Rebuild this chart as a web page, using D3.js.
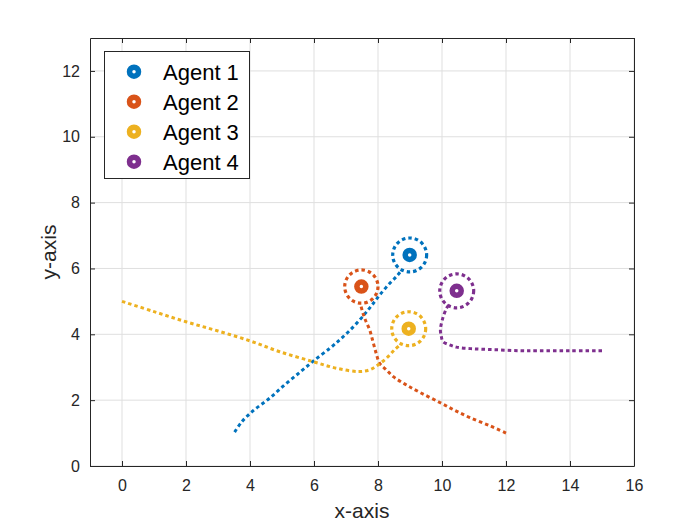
<!DOCTYPE html>
<html>
<head>
<meta charset="utf-8">
<script src="https://cdn.jsdelivr.net/npm/d3@7"></script>
<style>
  body { margin: 0; background: #fff; }
  svg { font-family: "Liberation Sans", Arial, sans-serif; }
  .tick-label { font-size: 16px; fill: #262626; }
  .axis-title { font-size: 21px; fill: #262626; }
  .legend-text { font-size: 22px; fill: #000; }
</style>
</head>
<body>
<svg id="chart" width="700" height="525"></svg>
<script>
// series names and tick values
const agentNames = ['Agent 1', 'Agent 2', 'Agent 3', 'Agent 4'];
const xTicks = [0, 2, 4, 6, 8, 10, 12, 14, 16];
const yTicks = [0, 2, 4, 6, 8, 10, 12];

// trajectories, each ends where it joins its orbit
const pathX1 = [3.52, 3.75, 4.1, 4.6, 5.1, 5.6, 6.02, 6.5, 6.8, 7.1, 7.43, 7.69, 7.9, 8.1, 8.37, 8.6, 8.74];
const pathY1 = [1.03, 1.35, 1.68, 2.05, 2.48, 2.88, 3.22, 3.58, 3.83, 4.1, 4.44, 4.74, 5.0, 5.25, 5.55, 5.78, 5.95];

const pathX2 = [12.0, 11.5, 10.87, 10.4, 9.93, 9.36, 8.89, 8.5, 8.26, 8.05, 7.95, 7.85, 7.74, 7.6, 7.53, 7.45];
const pathY2 = [1.0, 1.22, 1.47, 1.69, 1.93, 2.21, 2.46, 2.7, 2.92, 3.12, 3.4, 3.75, 4.13, 4.45, 4.64, 4.93];

const pathX3 = [0.0, 1.0, 2.0, 3.0, 4.0, 4.93, 5.97, 6.7, 7.38, 7.74, 8.0, 8.26, 8.52, 8.74];
const pathY3 = [5.0, 4.69, 4.38, 4.1, 3.8, 3.47, 3.17, 2.97, 2.87, 2.92, 3.07, 3.27, 3.53, 3.72];

const pathX4 = [15.0, 14.0, 13.0, 12.43, 11.7, 10.97, 10.45, 10.24, 10.03, 9.98, 9.95, 10.01, 10.14, 10.22];
const pathY4 = [3.5, 3.5, 3.5, 3.5, 3.53, 3.56, 3.61, 3.68, 3.78, 3.93, 4.13, 4.44, 4.79, 4.9];

// orbit centres (current agent positions) and orbit radius
const orbitX = [8.99, 7.48, 8.96, 10.46];
const orbitY = [6.41, 5.45, 4.17, 5.32];
const orbitR = [0.53, 0.52, 0.53, 0.53];

const palette = ['#0072BD', '#D95319', '#EDB120', '#7E2F8E'];

const margin = {top: 38, right: 66, bottom: 59, left: 90};
const width = 700 - margin.left - margin.right;
const height = 525 - margin.top - margin.bottom;

const svg = d3.select('#chart');
const chart = svg.append('g')
    .attr('transform', `translate(${margin.left},${margin.top})`);

const xScale = d3.scaleLinear().domain([-1, 16]).range([0, width]);
const yScale = d3.scaleLinear().domain([0, 13]).range([height, 0]);

// grid
chart.append('g').selectAll('line')
  .data(xTicks).enter().append('line')
    .attr('x1', d => xScale(d)).attr('x2', d => xScale(d))
    .attr('y1', 0).attr('y2', height)
    .attr('stroke', '#dfdfdf').attr('stroke-width', 1);
chart.append('g').selectAll('line')
  .data(yTicks).enter().append('line')
    .attr('y1', d => yScale(d)).attr('y2', d => yScale(d))
    .attr('x1', 0).attr('x2', width)
    .attr('stroke', '#dfdfdf').attr('stroke-width', 1);

// axes: inward ticks on all four sides, labels bottom and left
const tickLen = 5;
const axisColor = '#262626';
const xAxis = d3.axisBottom(xScale).tickValues(xTicks).tickSizeInner(-tickLen).tickSizeOuter(0).tickPadding(14);
const yAxis = d3.axisLeft(yScale).tickValues(yTicks).tickSizeInner(-tickLen).tickSizeOuter(0).tickPadding(10);
const xAxisTop = d3.axisTop(xScale).tickValues(xTicks).tickSizeInner(-tickLen).tickSizeOuter(0).tickFormat('');
const yAxisRight = d3.axisRight(yScale).tickValues(yTicks).tickSizeInner(-tickLen).tickSizeOuter(0).tickFormat('');

const xAxisG = chart.append('g').attr('transform', `translate(0,${height})`).call(xAxis);
const yAxisG = chart.append('g').call(yAxis);
const xTopG = chart.append('g').call(xAxisTop);
const yRightG = chart.append('g').attr('transform', `translate(${width},0)`).call(yAxisRight);

[xAxisG, yAxisG, xTopG, yRightG].forEach(g => {
  g.attr('font-size', null).attr('font-family', null);
  g.select('.domain').attr('stroke', axisColor).attr('stroke-width', 1);
  g.selectAll('.tick line').attr('stroke', axisColor).attr('stroke-width', 1);
  g.selectAll('.tick text').attr('class', 'tick-label').attr('fill', null);
});

// trajectories
const line = d3.line()
    .x(d => xScale(d[0]))
    .y(d => yScale(d[1]))
    .curve(d3.curveCatmullRom.alpha(0.5));

const paths = [
  d3.zip(pathX1, pathY1),
  d3.zip(pathX2, pathY2),
  d3.zip(pathX3, pathY3),
  d3.zip(pathX4, pathY4)
];

const agents = agentNames.map((name, i) => ({
  name: name,
  path: paths[i],
  cx: orbitX[i],
  cy: orbitY[i],
  r: orbitR[i],
  color: palette[i]
}));

chart.append('g').selectAll('path')
  .data(agents).enter().append('path')
    .attr('d', d => line(d.path))
    .attr('fill', 'none')
    .attr('stroke', d => d.color)
    .attr('stroke-width', 3)
    .attr('stroke-dasharray', '3.5,3');

// orbits
chart.append('g').selectAll('circle')
  .data(agents).enter().append('circle')
    .attr('cx', d => xScale(d.cx))
    .attr('cy', d => yScale(d.cy))
    .attr('r', d => xScale(d.cx + d.r) - xScale(d.cx))
    .attr('fill', 'none')
    .attr('stroke', d => d.color)
    .attr('stroke-width', 3.2)
    .attr('stroke-dasharray', '3.5,3');

// agent markers
chart.append('g').selectAll('circle')
  .data(agents).enter().append('circle')
    .attr('cx', d => xScale(d.cx))
    .attr('cy', d => yScale(d.cy))
    .attr('r', 4.5)
    .attr('fill', '#fff')
    .attr('stroke', d => d.color)
    .attr('stroke-width', 5.5);

// axis titles
svg.append('text')
    .attr('class', 'axis-title')
    .attr('x', margin.left + width / 2)
    .attr('y', 518)
    .attr('text-anchor', 'middle')
    .text('x-axis');

svg.append('text')
    .attr('class', 'axis-title')
    .attr('transform', `translate(56,${margin.top + height / 2}) rotate(-90)`)
    .attr('text-anchor', 'middle')
    .text('y-axis');

// legend
const legend = svg.append('g');
legend.append('rect')
    .attr('x', 104.5).attr('y', 51.5)
    .attr('width', 145).attr('height', 127)
    .attr('fill', '#fff')
    .attr('stroke', axisColor)
    .attr('stroke-width', 1);

const items = legend.selectAll('g.item')
  .data(agents).enter().append('g')
    .attr('class', 'item')
    .attr('transform', (d, i) => `translate(134,${71.7 + i * 30})`);

items.append('circle')
    .attr('r', 4.5)
    .attr('fill', '#fff')
    .attr('stroke', d => d.color)
    .attr('stroke-width', 5.5);

items.append('text')
    .attr('class', 'legend-text')
    .attr('x', 29)
    .attr('dy', '0.36em')
    .text(d => d.name);
</script>
</body>
</html>
